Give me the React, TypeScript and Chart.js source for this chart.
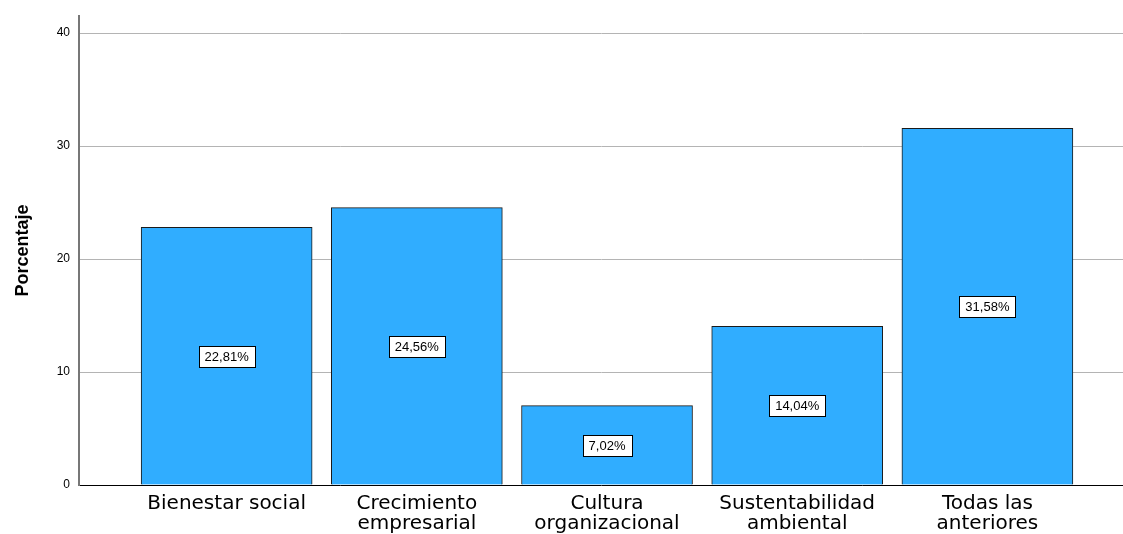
import React, { useEffect, useRef } from "react";
import { Chart, registerables } from "chart.js";

Chart.register(...registerables);

const categories: string[][] = [
  ["Bienestar social"],
  ["Crecimiento", "empresarial"],
  ["Cultura", "organizacional"],
  ["Sustentabilidad", "ambiental"],
  ["Todas las", "anteriores"],
];
const values: number[] = [22.81, 24.56, 7.02, 14.04, 31.58];
const valueLabels: string[] = ["22,81%", "24,56%", "7,02%", "14,04%", "31,58%"];
const yTicks: number[] = [0, 10, 20, 30, 40];

const FONT = "'Liberation Sans', Arial, sans-serif";
const XFONT = "'DejaVu Sans', sans-serif";

const boxLabels = {
  id: "boxLabels",
  afterDatasetsDraw(chart: any) {
    const ctx = chart.ctx;
    const meta = chart.getDatasetMeta(0);
    const yScale = chart.scales.y;
    ctx.save();
    ctx.font = `13px ${FONT}`;
    ctx.textAlign = "center";
    ctx.textBaseline = "middle";
    meta.data.forEach((bar: any, i: number) => {
      const txt = valueLabels[i];
      const cx = bar.x;
      const cy = yScale.getPixelForValue(values[i] / 2);
      const w = Math.round(ctx.measureText(txt).width + 12);
      const h = 21;
      const x0 = Math.round(cx - w / 2) + 0.5;
      const y0 = Math.round(cy - h / 2) + 0.5;
      ctx.fillStyle = "#ffffff";
      ctx.fillRect(x0, y0, w, h);
      ctx.strokeStyle = "#000000";
      ctx.lineWidth = 1;
      ctx.strokeRect(x0, y0, w, h);
      ctx.fillStyle = "#000000";
      ctx.fillText(txt, cx, cy + 1);
    });
    ctx.restore();
  },
};

export default function App() {
  const ref = useRef<HTMLCanvasElement | null>(null);

  useEffect(() => {
    if (!ref.current) return;
    const chart = new Chart(ref.current, {
      type: "bar",
      data: {
        datasets: [
          {
            data: values.map((v, i) => ({ x: i, y: v })),
            backgroundColor: "#30adff",
            borderColor: "#1a1a1a",
            borderWidth: 1,
            barThickness: 171,
          } as any,
        ],
      },
      options: {
        responsive: false,
        animation: false,
        layout: { padding: { top: 12, right: 0, left: 0, bottom: 0 } },
        plugins: {
          legend: { display: false },
          tooltip: { enabled: false },
        },
        scales: {
          x: {
            type: "linear",
            offset: false,
            min: -0.7763,
            max: 4.713,
            grid: { display: false, drawTicks: false, offset: false },
            border: { display: true, color: "#000000", width: 1 },
            afterBuildTicks: (scale: any) => {
              scale.ticks = categories.map((_, i) => ({ value: i }));
            },
            afterFit: (scale: any) => {
              scale.height = 49;
            },
            ticks: {
              autoSkip: false,
              maxRotation: 0,
              minRotation: 0,
              padding: 9,
              color: "#000000",
              font: { family: XFONT, size: 20, lineHeight: 1.0 },
              callback: (v: any) => {
                const i = Math.round(Number(v));
                return categories[i] ?? "";
              },
            },
          },
          y: {
            min: 0,
            max: 41.5,
            afterBuildTicks: (scale: any) => {
              scale.ticks = yTicks.map((v) => ({ value: v }));
            },
            afterFit: (scale: any) => {
              scale.width = 79;
            },
            grid: {
              drawTicks: false,
              color: (c: any) => (c.tick && c.tick.value === 0 ? "rgba(0,0,0,0)" : "#b4b4b4"),
              lineWidth: 1,
            },
            border: { display: true, color: "#777777", width: 2 },
            ticks: {
              padding: 9,
              color: "#000000",
              font: { family: FONT, size: 12 },
            },
            title: {
              display: true,
              text: "Porcentaje",
              color: "#000000",
              font: { family: FONT, size: 18, weight: "bold" },
              padding: { top: 12, bottom: 0 },
            },
          },
        },
      },
      plugins: [boxLabels],
    } as any);
    return () => chart.destroy();
  }, []);

  return (
    <div style={{ position: "absolute", left: 0, top: 0, width: 1123, height: 534 }}>
      <canvas ref={ref} width={1123} height={534} style={{ width: 1123, height: 534 }} />
    </div>
  );
}
